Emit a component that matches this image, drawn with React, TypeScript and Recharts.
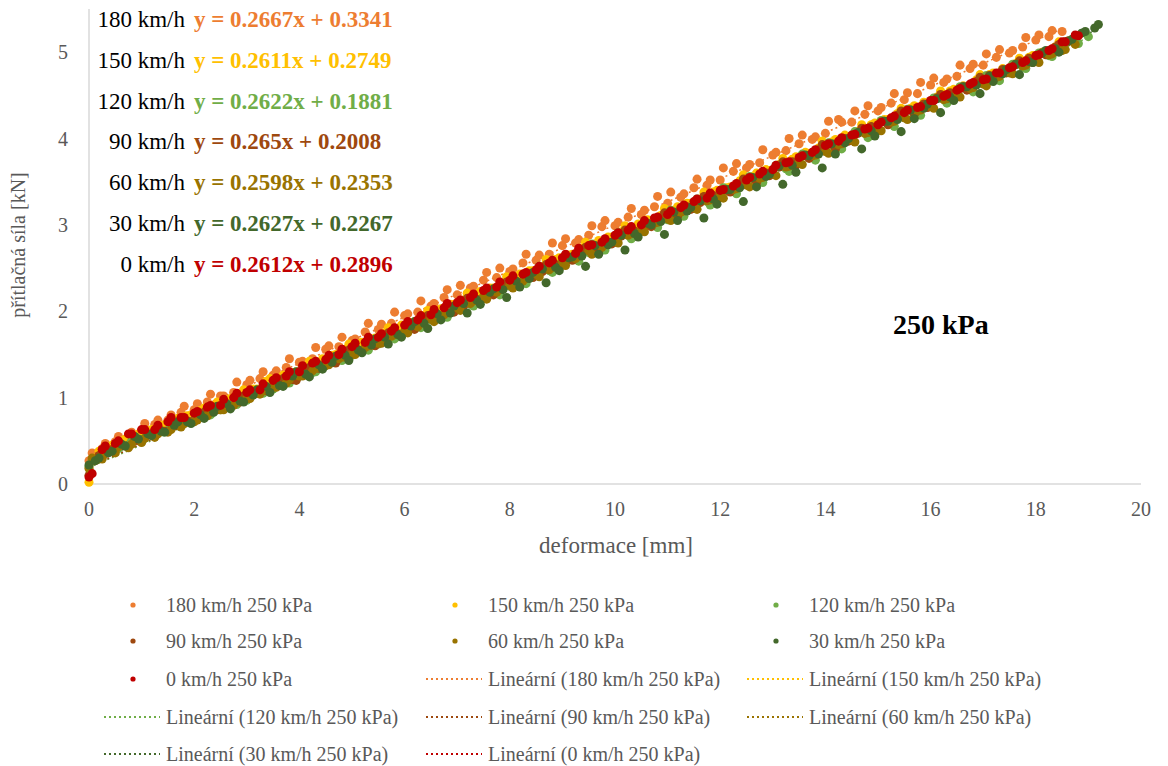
import { ScatterChart, Scatter, XAxis, YAxis, ZAxis } from 'recharts'

// deformace [mm] – sampling grids of the measured series
const X_A = [0,0.25,0.5,0.75,1,1.25,1.5,1.75,2,2.25,2.5,2.75,3,3.25,3.5,3.75,4,4.25,4.5,4.75,5,5.25,5.5,5.75,6,6.25,6.5,6.75,7,7.25,7.5,7.75,8,8.25,8.5,8.75,9,9.25,9.5,9.75,10,10.25,10.5,10.75,11,11.25,11.5,11.75,12,12.25,12.5,12.75,13,13.25,13.5,13.75,14,14.25,14.5,14.75,15,15.25,15.5,15.75,16,16.25,16.5,16.75,17,17.25,17.5,17.75,18,18.25,18.5,18.75,19]
const X_A2 = [0.06,0.31,0.56,0.81,1.06,1.31,1.56,1.81,2.06,2.31,2.56,2.81,3.06,3.31,3.56,3.81,4.06,4.31,4.56,4.81,5.06,5.31,5.56,5.81,6.06,6.31,6.56,6.81,7.06,7.31,7.56,7.81,8.06,8.31,8.56,8.81,9.06,9.31,9.56,9.81,10.06,10.31,10.56,10.81,11.06,11.31,11.56,11.81,12.06,12.31,12.56,12.81,13.06,13.31,13.56,13.81,14.06,14.31,14.56,14.81,15.06,15.31,15.56,15.81,16.06,16.31,16.56,16.81,17.06,17.31,17.56,17.81,18.06,18.31,18.56,18.81]
const X_B = [0,0.12,0.37,0.62,0.87,1.12,1.37,1.62,1.87,2.12,2.37,2.62,2.87,3.12,3.37,3.62,3.87,4.12,4.37,4.62,4.87,5.12,5.37,5.62,5.87,6.12,6.37,6.62,6.87,7.12,7.37,7.62,7.87,8.12,8.37,8.62,8.87,9.12,9.37,9.62,9.87,10.12,10.37,10.62,10.87,11.12,11.37,11.62,11.87,12.12,12.37,12.62,12.87,13.12,13.37,13.62,13.87,14.12,14.37,14.62,14.87,15.12,15.37,15.62,15.87,16.12,16.37,16.62,16.87,17.12,17.37,17.62,17.87,18.12,18.37,18.62,18.87,19.12]
const X_B2 = [0.19,0.44,0.69,0.94,1.19,1.44,1.69,1.94,2.19,2.44,2.69,2.94,3.19,3.44,3.69,3.94,4.19,4.44,4.69,4.94,5.19,5.44,5.69,5.94,6.19,6.44,6.69,6.94,7.19,7.44,7.69,7.94,8.19,8.44,8.69,8.94,9.19,9.44,9.69,9.94,10.19,10.44,10.69,10.94,11.19,11.44,11.69,11.94,12.19,12.44,12.69,12.94,13.19,13.44,13.69,13.94,14.19,14.44,14.69,14.94,15.19,15.44,15.69,15.94,16.19,16.44,16.69,16.94,17.19,17.44,17.69,17.94,18.19,18.44,18.69,18.94,19.19]

// přítlačná síla [kN]
const Y_180 = [0.27,0.41,0.49,0.55,0.62,0.69,0.74,0.83,0.86,0.95,1.02,1.06,1.15,1.22,1.26,1.35,1.41,1.45,1.56,1.59,1.66,1.76,1.79,1.86,1.95,1.99,2.06,2.16,2.19,2.27,2.36,2.39,2.46,2.56,2.59,2.66,2.76,2.79,2.88,2.98,2.99,3.09,3.12,3.21,3.25,3.32,3.43,3.46,3.52,3.62,3.66,3.72,3.81,3.86,3.94,3.99,4.06,4.22,4.19,4.28,4.32,4.41,4.45,4.52,4.62,4.65,4.72,4.81,4.85,4.94,4.99,5.06,5.14,5.18,5.24]
const Y_180_2 = [0.36,0.47,0.55,0.60,0.70,0.74,0.80,0.90,0.93,1.04,1.02,1.18,1.20,1.30,1.31,1.45,1.42,1.58,1.60,1.70,1.68,1.86,1.85,1.99,1.97,2.12,2.09,2.25,2.30,2.29,2.45,2.50,2.49,2.66,2.65,2.79,2.84,2.83,2.99,3.05,3.03,3.19,3.17,3.33,3.38,3.36,3.53,3.52,3.66,3.71,3.70,3.87,3.84,4.00,4.04,4.02,4.20,4.19,4.32,4.38,4.36,4.52,4.53,4.65,4.70,4.69,4.85,4.86,4.98,5.03,5.02,5.17,5.20,5.25]
const Y_150 = [0.02,0.30,0.42,0.50,0.56,0.62,0.68,0.73,0.79,0.85,0.91,0.96,1.04,1.10,1.19,1.22,1.29,1.36,1.41,1.49,1.56,1.60,1.68,1.75,1.80,1.87,1.95,2.00,2.08,2.13,2.19,2.27,2.33,2.39,2.47,2.52,2.60,2.65,2.73,2.78,2.86,2.92,2.97,3.06,3.11,3.17,3.25,3.30,3.38,3.43,3.51,3.56,3.64,3.70,3.76,3.84,3.89,3.96,4.04,4.08,4.16,4.22,4.29,4.35,4.42,4.48,4.55,4.61,4.68,4.74,4.81,4.87,4.94,5.00,5.06,5.13]
const Y_150_2 = [0.38,0.45,0.52,0.58,0.63,0.69,0.76,0.80,0.88,0.95,0.99,1.09,1.10,1.22,1.26,1.30,1.42,1.45,1.50,1.62,1.64,1.69,1.81,1.84,1.88,2.01,2.03,2.08,2.21,2.23,2.27,2.40,2.43,2.47,2.60,2.62,2.66,2.80,2.82,2.86,2.99,3.01,3.05,3.19,3.21,3.25,3.38,3.40,3.44,3.58,3.60,3.63,3.77,3.79,3.83,3.97,3.99,4.02,4.16,4.18,4.22,4.35,4.38,4.41,4.55,4.57,4.60,4.74,4.76,4.80,4.93,4.96,5.00,5.12]
const Y_120 = [0.20,0.31,0.39,0.45,0.51,0.56,0.62,0.67,0.74,0.79,0.86,0.92,0.97,1.05,1.10,1.17,1.25,1.29,1.37,1.44,1.49,1.57,1.62,1.70,1.76,1.82,1.90,1.95,2.03,2.08,2.16,2.21,2.29,2.34,2.42,2.47,2.56,2.60,2.68,2.74,2.80,2.88,2.93,3.01,3.06,3.14,3.19,3.27,3.33,3.39,3.47,3.52,3.60,3.65,3.73,3.78,3.86,3.92,3.98,4.06,4.11,4.19,4.24,4.32,4.37,4.45,4.50,4.58,4.64,4.70,4.78,4.83,4.91,4.96,5.04,5.10,5.18]
const Y_120_2 = [0.28,0.36,0.41,0.50,0.53,0.60,0.66,0.70,0.79,0.80,0.93,0.92,1.06,1.05,1.20,1.17,1.33,1.30,1.46,1.43,1.59,1.55,1.72,1.68,1.86,1.81,1.99,1.93,2.12,2.06,2.25,2.19,2.38,2.32,2.52,2.45,2.65,2.58,2.78,2.71,2.91,2.84,3.04,2.97,3.17,3.10,3.30,3.23,3.43,3.36,3.56,3.49,3.69,3.62,3.82,3.75,3.95,3.88,4.08,4.01,4.21,4.14,4.34,4.27,4.47,4.41,4.60,4.54,4.73,4.67,4.86,4.81,4.99,4.95,5.12,5.10]
const Y_90 = [0.10,0.27,0.37,0.45,0.51,0.57,0.62,0.67,0.73,0.78,0.84,0.90,0.95,1.03,1.08,1.16,1.21,1.29,1.34,1.42,1.47,1.55,1.61,1.67,1.74,1.80,1.88,1.93,2.01,2.06,2.14,2.20,2.27,2.33,2.41,2.46,2.54,2.60,2.67,2.74,2.80,2.87,2.93,3.00,3.07,3.13,3.21,3.26,3.34,3.40,3.46,3.54,3.60,3.67,3.73,3.80,3.87,3.93,4.00,4.06,4.14,4.20,4.27,4.33,4.40,4.47,4.53,4.60,4.66,4.73,4.80,4.86,4.93,4.99,5.06,5.13]
const Y_90_2 = [0.33,0.40,0.44,0.50,0.58,0.61,0.70,0.72,0.83,0.86,0.89,1.02,1.05,1.09,1.22,1.20,1.35,1.36,1.40,1.55,1.54,1.60,1.75,1.73,1.79,1.95,1.93,1.99,2.15,2.12,2.19,2.34,2.31,2.39,2.54,2.50,2.59,2.74,2.70,2.78,2.94,2.90,2.98,3.14,3.10,3.18,3.33,3.29,3.38,3.53,3.49,3.57,3.73,3.69,3.77,3.93,3.88,3.97,4.12,4.08,4.16,4.32,4.28,4.36,4.51,4.48,4.56,4.71,4.68,4.76,4.90,4.88,4.97,5.09]
const Y_60 = [0.18,0.29,0.36,0.42,0.48,0.54,0.60,0.66,0.72,0.79,0.86,0.91,0.99,1.04,1.12,1.17,1.25,1.31,1.37,1.45,1.50,1.58,1.63,1.71,1.77,1.82,1.91,1.96,2.04,2.09,2.17,2.22,2.30,2.35,2.43,2.48,2.57,2.61,2.70,2.74,2.82,2.88,2.94,3.02,3.07,3.15,3.20,3.28,3.33,3.41,3.46,3.54,3.59,3.67,3.72,3.80,3.85,3.93,3.98,4.06,4.11,4.19,4.24,4.32,4.37,4.45,4.50,4.58,4.63,4.71,4.76,4.84,4.89,4.97,5.02,5.09]
const Y_60_2 = [0.30,0.35,0.43,0.46,0.53,0.58,0.63,0.70,0.74,0.83,0.86,0.95,0.99,1.08,1.12,1.21,1.25,1.34,1.38,1.47,1.50,1.60,1.63,1.73,1.75,1.86,1.88,1.99,2.01,2.12,2.14,2.25,2.27,2.38,2.40,2.51,2.53,2.64,2.66,2.77,2.79,2.90,2.92,3.03,3.05,3.16,3.18,3.29,3.31,3.42,3.44,3.55,3.57,3.68,3.70,3.81,3.83,3.94,3.96,4.07,4.09,4.20,4.22,4.33,4.35,4.46,4.48,4.59,4.61,4.72,4.75,4.85,4.88,4.98,5.03]
const Y_30 = [0.22,0.27,0.36,0.46,0.55,0.58,0.61,0.68,0.72,0.80,0.83,0.93,0.96,1.03,1.13,1.14,1.25,1.27,1.38,1.41,1.49,1.55,1.61,1.70,1.73,1.83,1.86,1.97,1.98,2.09,2.13,2.22,2.25,2.35,2.38,2.49,2.51,2.62,2.64,2.76,2.77,2.88,2.90,3.02,3.04,3.15,3.16,3.28,3.30,3.41,3.43,3.55,3.56,3.68,3.69,3.81,3.82,3.94,3.95,4.07,4.09,4.20,4.22,4.33,4.35,4.46,4.48,4.60,4.62,4.72,4.75,4.86,4.89,4.99,5.04,5.13,5.22,5.28]
const Y_30_2 = [0.30,0.38,0.44,0.52,0.56,0.60,0.72,0.70,0.76,0.90,0.87,0.95,1.09,1.06,1.13,1.30,1.24,1.33,1.48,1.43,1.52,1.68,1.62,1.70,1.88,1.80,1.90,2.06,1.98,2.08,2.26,2.16,2.28,2.45,2.33,2.47,2.63,2.52,2.66,2.80,2.71,2.86,3.00,2.89,3.05,3.20,3.08,3.24,3.41,3.27,3.44,3.59,3.47,3.61,3.80,3.66,3.82,4.00,3.88,4.03,4.20,4.08,4.23,4.40,4.30,4.44,4.60,4.52,4.66,4.80,4.74,4.88,5.02,5.00,5.15,5.24,5.32]
const Y_0 = [0.08,0.40,0.47,0.58,0.63,0.63,0.72,0.77,0.82,0.89,0.91,1.00,1.06,1.09,1.20,1.25,1.30,1.40,1.44,1.50,1.59,1.64,1.70,1.77,1.84,1.90,1.96,2.04,2.10,2.16,2.24,2.28,2.36,2.43,2.48,2.56,2.62,2.67,2.76,2.80,2.88,2.94,3.00,3.08,3.12,3.20,3.27,3.31,3.40,3.45,3.52,3.59,3.64,3.72,3.78,3.84,3.92,3.97,4.04,4.11,4.16,4.24,4.30,4.36,4.44,4.49,4.56,4.63,4.68,4.76,4.82,4.88,4.96,5.02,5.12,5.20]
const Y_0_2 = [0.12,0.44,0.50,0.58,0.63,0.68,0.77,0.77,0.84,0.91,0.98,1.05,1.09,1.16,1.23,1.30,1.37,1.42,1.49,1.56,1.63,1.70,1.74,1.81,1.88,1.95,2.02,2.09,2.13,2.20,2.27,2.34,2.41,2.45,2.52,2.59,2.66,2.73,2.77,2.84,2.91,2.98,3.05,3.09,3.16,3.23,3.30,3.37,3.41,3.48,3.55,3.62,3.69,3.73,3.80,3.87,3.94,4.01,4.05,4.12,4.19,4.26,4.33,4.37,4.44,4.51,4.58,4.65,4.69,4.76,4.83,4.90,4.97,5.04,5.12,5.19]

// linear trend end points [x, y]
const TREND_180 = [[0, 0.33], [18.5, 5.27]]
const TREND_150 = [[0, 0.27], [18.62, 5.14]]
const TREND_120 = [[0, 0.19], [19, 5.17]]
const TREND_90 = [[0, 0.2], [18.62, 5.14]]
const TREND_60 = [[0, 0.24], [18.75, 5.11]]
const TREND_30 = [[0, 0.23], [19.12, 5.25]]
const TREND_0 = [[0, 0.29], [18.75, 5.19]]

const SPEEDS = ['180 km/h', '150 km/h', '120 km/h', '90 km/h', '60 km/h', '30 km/h', '0 km/h']
const EQUATIONS = ['y = 0.2667x + 0.3341', 'y = 0.2611x + 0.2749', 'y = 0.2622x + 0.1881', 'y = 0.265x + 0.2008', 'y = 0.2598x + 0.2353', 'y = 0.2627x + 0.2267', 'y = 0.2612x + 0.2896']
const X_TICKS = [0, 2, 4, 6, 8, 10, 12, 14, 16, 18, 20]
const Y_TICKS = [0, 1, 2, 3, 4, 5]

const COLORS = ['#ED7D31', '#FFC000', '#70AD47', '#9E480E', '#997300', '#43682B', '#C00000']

const FONT = '"Liberation Serif", "Times New Roman", serif'
const GRAY = '#595959'

const toPoints = (xs: number[], ys: number[]) => ys.map((y, i) => ({ x: xs[i], y }))
const toLine = (pts: number[][]) => pts.map(([x, y]) => ({ x, y }))

const SERIES = [
  [...toPoints(X_A, Y_180), ...toPoints(X_A2, Y_180_2)],
  [...toPoints(X_B, Y_150), ...toPoints(X_B2, Y_150_2)],
  [...toPoints(X_A, Y_120), ...toPoints(X_A2, Y_120_2)],
  [...toPoints(X_B, Y_90), ...toPoints(X_B2, Y_90_2)],
  [...toPoints(X_A, Y_60), ...toPoints(X_A2, Y_60_2)],
  [...toPoints(X_B, Y_30), ...toPoints(X_B2, Y_30_2)],
  [...toPoints(X_A, Y_0), ...toPoints(X_A2, Y_0_2)]
]
const TRENDS = [TREND_180, TREND_150, TREND_120, TREND_90, TREND_60, TREND_30, TREND_0].map(toLine)

// legend entries in the order the chart lists them
const LEGEND = [
  ...SPEEDS.map((s, i) => ({ label: `${s} 250 kPa`, color: COLORS[i], kind: 'dot' })),
  ...SPEEDS.map((s, i) => ({ label: `Lineární (${s} 250 kPa)`, color: COLORS[i], kind: 'line' }))
]
const LEGEND_COLS = [104, 426, 747]
const LEGEND_ROWS = [605, 641, 679, 717, 754]

export default function App() {
  return (
    <div style={{ position: 'absolute', left: 0, top: 0, width: 1168, height: 766, background: '#fff', fontFamily: FONT }}>
      <ScatterChart width={1168} height={766} margin={{ top: 9, right: 27, bottom: 252, left: 0 }}>
        <XAxis
          type="number"
          dataKey="x"
          domain={[0, 20]}
          ticks={X_TICKS}
          tickLine={false}
          tickSize={0}
          tickMargin={18}
          height={30}
          axisLine={{ stroke: '#d9d9d9', strokeWidth: 1.5 }}
          tick={{ fill: GRAY, fontSize: 20, fontFamily: FONT }}
        />
        <YAxis
          type="number"
          dataKey="y"
          domain={[0, 5.5]}
          ticks={Y_TICKS}
          tickLine={false}
          tickSize={0}
          tickMargin={21}
          width={89}
          axisLine={{ stroke: '#d9d9d9', strokeWidth: 1.5 }}
          tick={{ fill: GRAY, fontSize: 20, fontFamily: FONT }}
        />
        <ZAxis type="number" range={[38, 38]} />
        {TRENDS.map((t, i) => (
          <Scatter
            key={`trend-${i}`}
            data={t}
            line={{ stroke: COLORS[i], strokeWidth: 1.5, strokeDasharray: '2 3' }}
            shape={() => <g />}
            isAnimationActive={false}
          />
        ))}
        {SERIES.map((s, i) => (
          <Scatter key={`s-${i}`} data={s} fill={COLORS[i]} shape="circle" isAnimationActive={false} />
        ))}
      </ScatterChart>

      {/* regression equations */}
      {SPEEDS.map((s, i) => (
        <div key={s} style={{ position: 'absolute', top: 20 + i * 40.8 - 13, left: 0, height: 26, lineHeight: '26px', fontSize: 23 }}>
          <span style={{ position: 'absolute', right: -185, width: 185, textAlign: 'right', whiteSpace: 'nowrap', color: '#000' }}>{s}</span>
          <span style={{ position: 'absolute', left: 194, whiteSpace: 'nowrap', color: COLORS[i], fontWeight: 'bold' }}>{EQUATIONS[i]}</span>
        </div>
      ))}

      <div style={{ position: 'absolute', left: 893, top: 309, height: 32, lineHeight: '32px', fontSize: 28, fontWeight: 'bold', color: '#000', whiteSpace: 'nowrap' }}>250 kPa</div>

      <div style={{ position: 'absolute', left: 18, top: 245, transform: 'translate(-50%, -50%) rotate(-90deg)', fontSize: 20, color: GRAY, whiteSpace: 'nowrap' }}>
        přítlačná síla [kN]
      </div>
      <div style={{ position: 'absolute', left: 616, top: 546, transform: 'translate(-50%, -50%)', fontSize: 23, color: GRAY, whiteSpace: 'nowrap' }}>
        deformace [mm]
      </div>

      {/* legend */}
      {LEGEND.map((e, i) => {
        const left = LEGEND_COLS[i % 3]
        const top = LEGEND_ROWS[Math.floor(i / 3)]
        return (
          <div key={e.label} style={{ position: 'absolute', left, top: top - 12, height: 24, lineHeight: '24px', fontSize: 20, color: GRAY, whiteSpace: 'nowrap' }}>
            <svg width={58} height={24} style={{ position: 'absolute', left: 0, top: 0 }}>
              {e.kind === 'dot' ? (
                <circle cx={29} cy={12} r={2.6} fill={e.color} />
              ) : (
                <line x1={0} y1={12} x2={56} y2={12} stroke={e.color} strokeWidth={2} strokeDasharray="2 3" />
              )}
            </svg>
            <span style={{ position: 'absolute', left: 62 }}>{e.label}</span>
          </div>
        )
      })}
    </div>
  )
}
